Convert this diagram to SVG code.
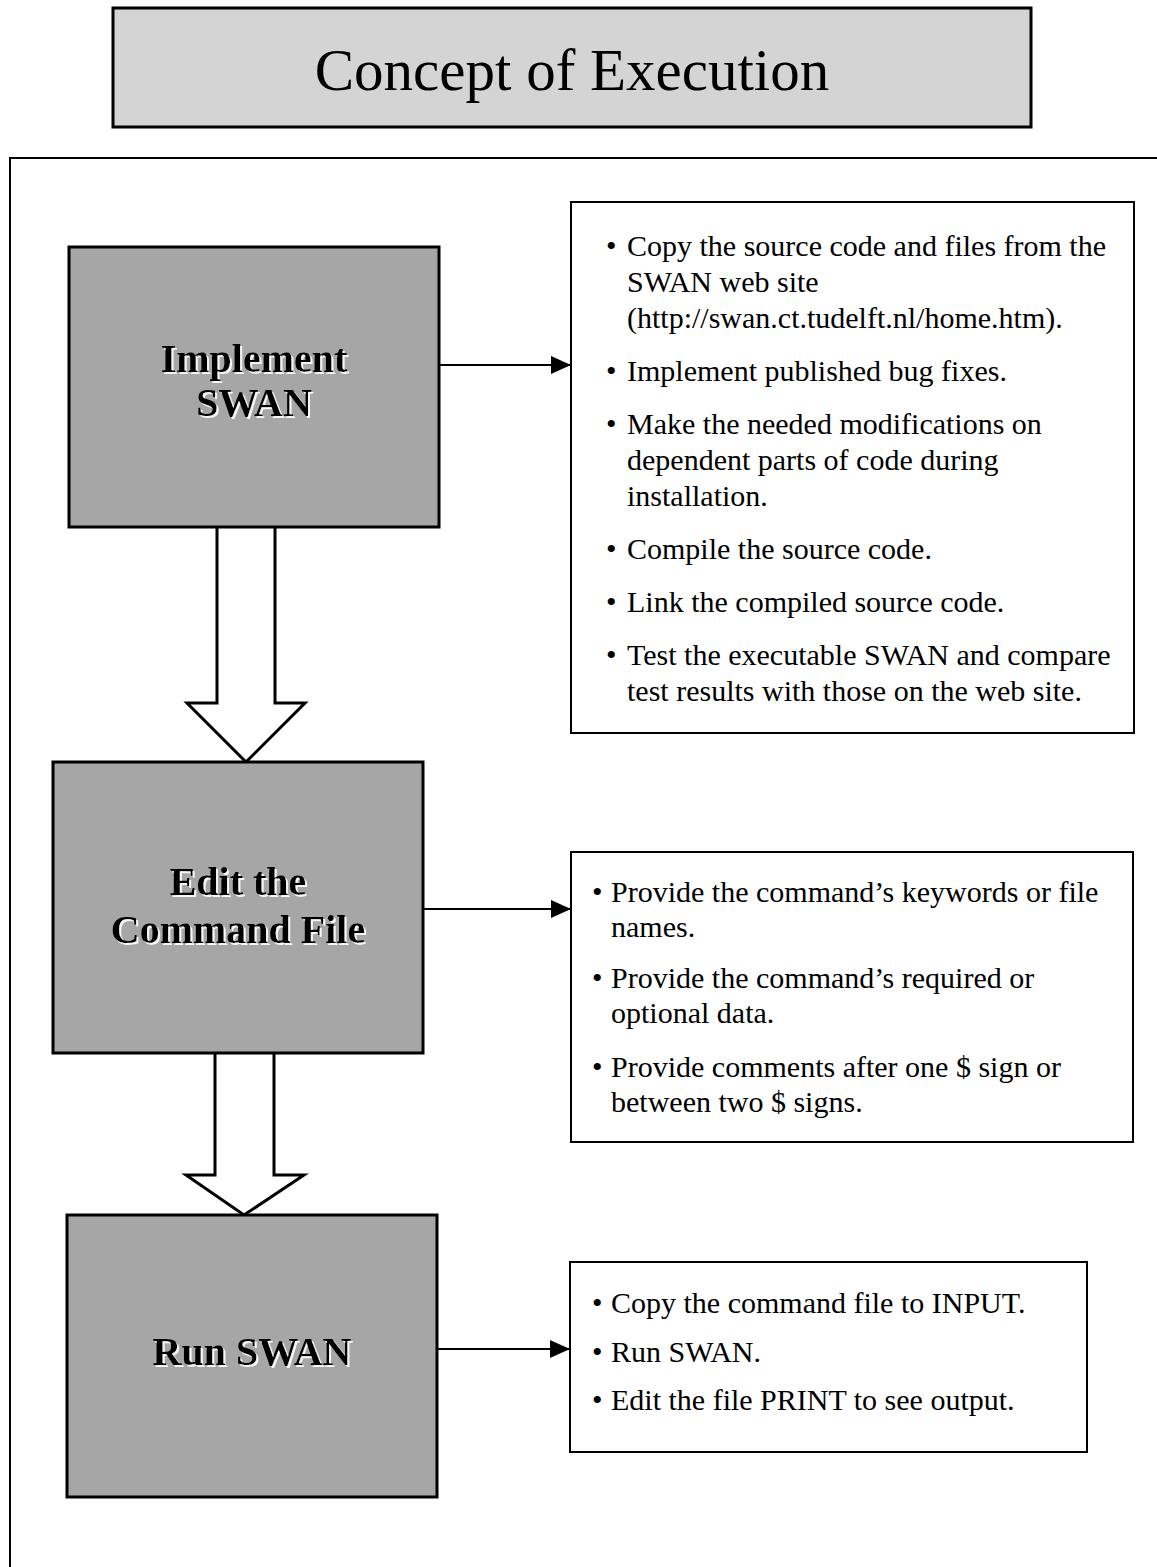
<svg xmlns="http://www.w3.org/2000/svg" width="1157" height="1567" viewBox="0 0 1157 1567">
  <defs>
    <marker id="ah" markerWidth="20" markerHeight="18" refX="20" refY="9" orient="auto" markerUnits="userSpaceOnUse">
      <path d="M0,0 L20,9 L0,18 Z" fill="#000"/>
    </marker>
    <filter id="halo" x="-5%" y="-20%" width="110%" height="140%">
      <feDropShadow dx="2" dy="2" stdDeviation="0" flood-color="#ffffff" flood-opacity="0.9"/>
    </filter>
  </defs>
  <style>
    .title{font-family:"Liberation Serif",serif;font-size:59px;fill:#000;text-anchor:middle}
    .node{fill:#a6a6a6;stroke:#000;stroke-width:3}
    .lbl{font-family:"Liberation Serif",serif;font-size:40px;font-weight:bold;text-anchor:middle;fill:#000;filter:url(#halo)}
    .info{fill:#fff;stroke:#000;stroke-width:2}
    .txt{font-family:"Liberation Serif",serif;font-size:30px;fill:#000}
    .conn{stroke:#000;stroke-width:2;fill:none}
    .block{fill:#fff;stroke:#000;stroke-width:3;stroke-linejoin:miter}
  </style>
  <rect width="1157" height="1567" fill="#fff"/>

  <g id="title">
    <rect x="113" y="8" width="918" height="119" fill="#d4d4d4" stroke="#000" stroke-width="3"/>
    <text class="title" x="572" y="90">Concept of Execution</text>
  </g>

  <g id="frame">
    <path d="M10,1567 L10,158 L1157,158" fill="none" stroke="#000" stroke-width="2"/>
  </g>

  <g id="connectors">
    <path class="block" d="M217,527 L217,703 L187,703 L246,762 L305,703 L275,703 L275,527"/>
    <path class="block" d="M215,1053 L215,1175 L186,1175 L244,1215 L304,1175 L274,1175 L274,1053"/>
    <line class="conn" x1="439" y1="365" x2="571" y2="365" marker-end="url(#ah)"/>
    <line class="conn" x1="423" y1="909" x2="571" y2="909" marker-end="url(#ah)"/>
    <line class="conn" x1="437" y1="1349" x2="570" y2="1349" marker-end="url(#ah)"/>
  </g>

  <g id="node-implement">
    <rect class="node" x="69" y="247" width="370" height="280"/>
    <text class="lbl" x="254" y="372">Implement</text>
    <text class="lbl" x="254" y="416">SWAN</text>
  </g>

  <g id="node-edit">
    <rect class="node" x="53" y="762" width="370" height="291"/>
    <text class="lbl" x="238" y="895">Edit the</text>
    <text class="lbl" x="238" y="943">Command File</text>
  </g>

  <g id="node-run">
    <rect class="node" x="67" y="1215" width="370" height="282"/>
    <text class="lbl" x="252" y="1365">Run SWAN</text>
  </g>

  <g id="info-implement">
    <rect class="info" x="571" y="202" width="563" height="531"/>
    <text class="txt" x="606" y="256">•</text>
    <text class="txt" x="627" y="256">Copy the source code and files from the</text>
    <text class="txt" x="627" y="292">SWAN web site</text>
    <text class="txt" x="627" y="328">(http://swan.ct.tudelft.nl/home.htm).</text>
    <text class="txt" x="606" y="381">•</text>
    <text class="txt" x="627" y="381">Implement published bug fixes.</text>
    <text class="txt" x="606" y="434">•</text>
    <text class="txt" x="627" y="434">Make the needed modifications on</text>
    <text class="txt" x="627" y="470">dependent parts of code during</text>
    <text class="txt" x="627" y="506">installation.</text>
    <text class="txt" x="606" y="559">•</text>
    <text class="txt" x="627" y="559">Compile the source code.</text>
    <text class="txt" x="606" y="612">•</text>
    <text class="txt" x="627" y="612">Link the compiled source code.</text>
    <text class="txt" x="606" y="665">•</text>
    <text class="txt" x="627" y="665">Test the executable SWAN and compare</text>
    <text class="txt" x="627" y="701">test results with those on the web site.</text>
  </g>

  <g id="info-edit">
    <rect class="info" x="571" y="852" width="562" height="290"/>
    <text class="txt" x="592" y="902">•</text>
    <text class="txt" x="611" y="902">Provide the command’s keywords or file</text>
    <text class="txt" x="611" y="937">names.</text>
    <text class="txt" x="592" y="988">•</text>
    <text class="txt" x="611" y="988">Provide the command’s required or</text>
    <text class="txt" x="611" y="1023">optional data.</text>
    <text class="txt" x="592" y="1077">•</text>
    <text class="txt" x="611" y="1077">Provide comments after one $ sign or</text>
    <text class="txt" x="611" y="1112">between two $ signs.</text>
  </g>

  <g id="info-run">
    <rect class="info" x="570" y="1262" width="517" height="190"/>
    <text class="txt" x="592" y="1313">•</text>
    <text class="txt" x="611" y="1313">Copy the command file to INPUT.</text>
    <text class="txt" x="592" y="1362">•</text>
    <text class="txt" x="611" y="1362">Run SWAN.</text>
    <text class="txt" x="592" y="1410">•</text>
    <text class="txt" x="611" y="1410">Edit the file PRINT to see output.</text>
  </g>
</svg>
